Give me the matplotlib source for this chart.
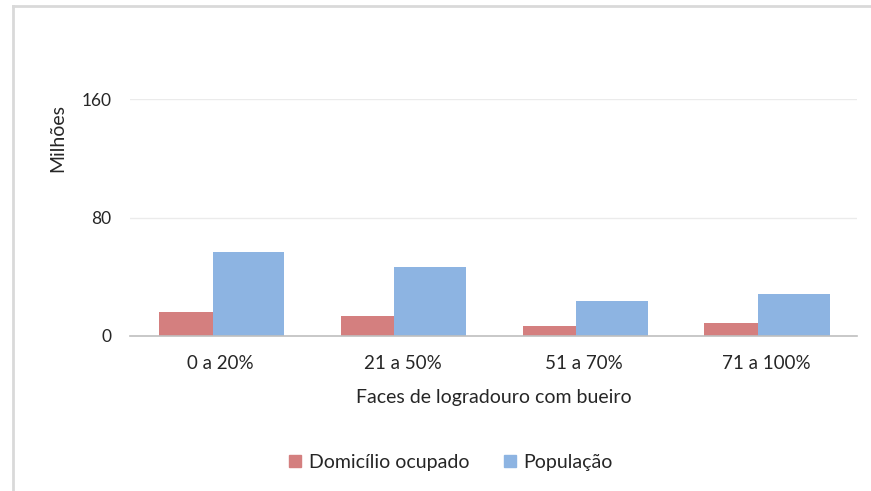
import matplotlib.pyplot as plt
from matplotlib.lines import Line2D
from matplotlib.patches import Patch

categorias = ['0 a 20%', '21 a 50%', '51 a 70%', '71 a 100%']
domicilio = [16.3, 13.6, 6.8, 8.8]
populacao = [57.0, 46.8, 23.7, 28.5]
y_ticks = [0, 80, 160]

cor_dom = '#D47F7F'
cor_pop = '#8DB4E2'
cor_txt = '#262626'

plt.rcParams['font.family'] = ['Lato', 'DejaVu Sans']

fig = plt.figure(figsize=(8.71, 4.91), dpi=100)
ax = fig.add_axes([0.149, 0.3157, 0.835, 0.4826])

x = list(range(len(categorias)))
# barras vermelhas mais estreitas que as azuis, como no original
ax.bar([i - 0.34 for i in x], domicilio, width=0.295, align='edge', color=cor_dom)
ax.bar([i - 0.045 for i in x], populacao, width=0.395, align='edge', color=cor_pop)

ax.set_xlim(-0.5, len(categorias) - 0.5)
ax.set_ylim(0, 160)
ax.set_yticks(y_ticks)
ax.set_xticks(x)
ax.set_xticklabels(categorias)
ax.tick_params(axis='x', length=0, labelsize=13.5, colors=cor_txt, pad=14)
ax.tick_params(axis='y', length=0, labelsize=12.5, colors=cor_txt, pad=13)
ax.yaxis.grid(True, color='#EBEBEB', linewidth=1)
ax.set_axisbelow(True)
for s in ['top', 'right', 'left']:
    ax.spines[s].set_visible(False)
ax.spines['bottom'].set_color('#BFBFBF')
ax.spines['bottom'].set_linewidth(1.2)

ax.set_xlabel('Faces de logradouro com bueiro', fontsize=14, color=cor_txt, labelpad=12)
fig.text(0.066, 0.718, 'Milhões', rotation=90, ha='center', va='center',
         fontsize=14, color=cor_txt)

handles = [Patch(color=cor_dom), Patch(color=cor_pop)]
fig.legend(handles, ['Domicílio ocupado', 'População'], loc='center',
           bbox_to_anchor=(0.518, 0.059), ncol=2, frameon=False, fontsize=14,
           handlelength=0.6, handleheight=0.6, handletextpad=0.4, columnspacing=1.8,
           labelcolor=cor_txt)

# moldura cinza (só esquerda e topo visíveis)
fig.add_artist(Line2D([0.015, 0.015], [0.0, 0.987], transform=fig.transFigure,
                      color='#D9D9D9', linewidth=2))
fig.add_artist(Line2D([0.015, 1.0], [0.987, 0.987], transform=fig.transFigure,
                      color='#D9D9D9', linewidth=2))

fig.savefig('out.png', dpi=100, facecolor='white')
